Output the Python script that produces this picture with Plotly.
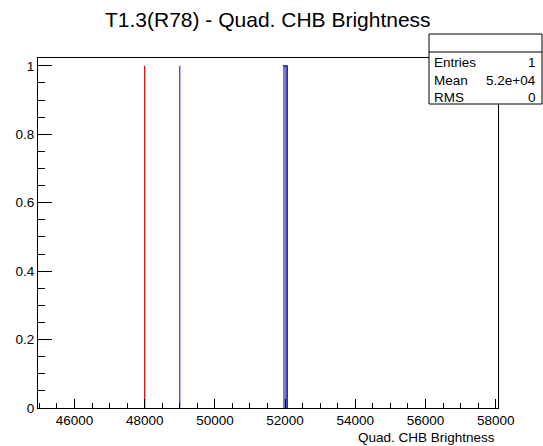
import plotly.graph_objects as go

# Data
hist_edges = [51940, 52060]
hist_counts = [1]
red_line_x = 48000
blue_line_x = 49000
line_height = 1
stats_labels = ["Entries", "Mean", "RMS"]
stats_values = ["1", "5.2e+04", "0"]
x_tickvals = [46000, 48000, 50000, 52000, 54000, 56000, 58000]
y_tickvals = [0, 0.2, 0.4, 0.6, 0.8, 1]
y_ticktext = ["0", "0.2", "0.4", "0.6", "0.8", "1"]

FONT = "Liberation Sans, Arial, Helvetica, sans-serif"
W, H = 543, 446
L, R, T, B = 38, 498, 58, 408

def px(x):
    return (x - L) / (R - L)

def py(y):
    return (B - y) / (B - T)

fig = go.Figure()

# histogram fill
x0, x1 = hist_edges
c = hist_counts[0]
fig.add_trace(go.Scatter(
    x=[x0, x0, x1, x1, x0], y=[0, c, c, 0, 0], mode="lines",
    fill="toself", fillcolor="#7b7bcc", line=dict(width=0),
    hoverinfo="skip", showlegend=False))
# histogram outline (top and right)
fig.add_trace(go.Scatter(
    x=[x0, x1, x1], y=[c, c, 0], mode="lines",
    line=dict(color="#0000b0", width=1.2), hoverinfo="skip", showlegend=False))
# vertical threshold lines
fig.add_trace(go.Scatter(
    x=[red_line_x, red_line_x], y=[0, line_height], mode="lines",
    line=dict(color="#cc0000", width=1.2), showlegend=False))
fig.add_trace(go.Scatter(
    x=[blue_line_x, blue_line_x], y=[0, line_height], mode="lines",
    line=dict(color="#0000ff", width=1), showlegend=False))

fig.update_layout(
    width=W, height=H,
    margin=dict(l=L, r=W - R, t=T, b=H - B, pad=0),
    paper_bgcolor="white", plot_bgcolor="white",
    font=dict(family=FONT, size=14, color="black"),
    showlegend=False,
    xaxis=dict(range=[44960, 58066], tickvals=x_tickvals,
               ticktext=[str(v) for v in x_tickvals],
               ticks="inside", ticklen=9, tickwidth=1, tickcolor="black",
               minor=dict(dtick=500, ticks="inside", ticklen=5, tickcolor="black", tickwidth=1),
               showline=True, linecolor="black", linewidth=1, mirror=True,
               showgrid=False, zeroline=False,
               tickfont=dict(size=13.5, family=FONT)),
    yaxis=dict(range=[0, 1.023], tickvals=y_tickvals, ticktext=y_ticktext,
               ticks="inside", ticklen=14, tickwidth=1, tickcolor="black",
               minor=dict(dtick=0.05, ticks="inside", ticklen=7, tickcolor="black", tickwidth=1),
               showline=True, linecolor="black", linewidth=1, mirror=True,
               showgrid=False, zeroline=False,
               tickfont=dict(size=13.5, family=FONT)),
)

# stats box
bx0, bx1, by0, bdiv, by1 = 429, 542, 34, 52, 104
fig.add_shape(type="rect", xref="paper", yref="paper",
              x0=px(bx0), x1=px(bx1), y0=py(by1), y1=py(by0),
              fillcolor="white", line=dict(color="black", width=1), layer="above")
fig.add_shape(type="line", xref="paper", yref="paper",
              x0=px(bx0), x1=px(bx1), y0=py(bdiv), y1=py(bdiv),
              line=dict(color="black", width=1), layer="above")
row_y = [62, 80, 97]
for lab, val, yy in zip(stats_labels, stats_values, row_y):
    fig.add_annotation(text=lab, xref="paper", yref="paper", x=px(bx0 + 3), y=py(yy),
                       xanchor="left", yanchor="middle", showarrow=False,
                       font=dict(size=13.5, family=FONT))
    fig.add_annotation(text=val, xref="paper", yref="paper", x=px(bx1 - 4), y=py(yy),
                       xanchor="right", yanchor="middle", showarrow=False,
                       font=dict(size=13.5, family=FONT))

# title
fig.add_annotation(text="T1.3(R78) - Quad. CHB Brightness", xref="paper", yref="paper",
                   x=px(268), y=py(19), xanchor="center", yanchor="middle",
                   showarrow=False, font=dict(size=21, family=FONT))
# x axis title
fig.add_annotation(text="Quad. CHB Brightness", xref="paper", yref="paper",
                   x=px(497), y=py(437.5), xanchor="right", yanchor="middle",
                   showarrow=False, font=dict(size=13.5, family=FONT))

fig.write_html("out.html", config={"displayModeBar": False},
               post_script="document.body.style.margin='0';document.body.style.overflow='hidden';")
